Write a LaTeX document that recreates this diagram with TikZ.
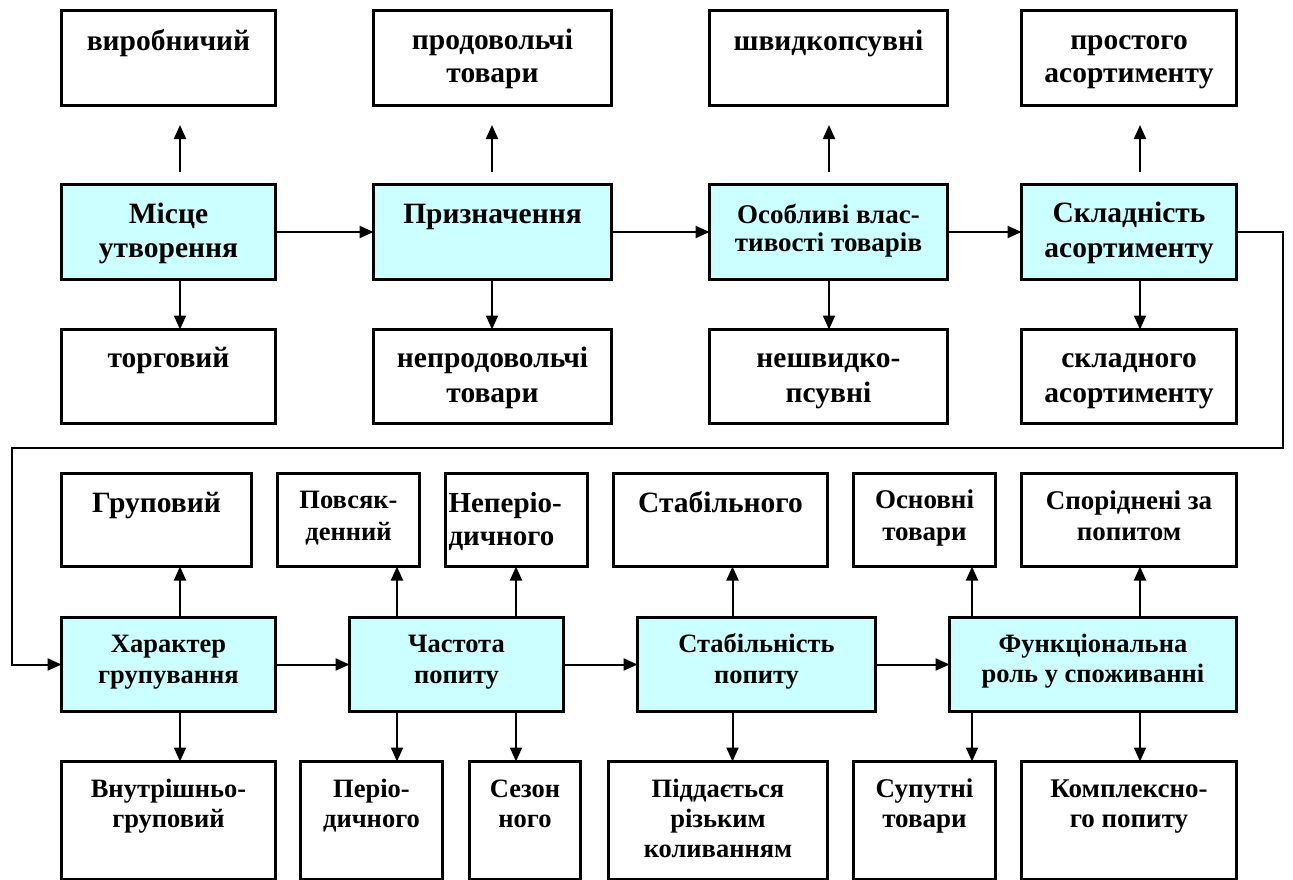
\documentclass[tikz,border=0pt]{standalone}
\usepackage{fontspec}
\setmainfont{Liberation Serif}
\usetikzlibrary{arrows.meta}
\definecolor{cyanbox}{RGB}{204,255,255}
\tikzset{
  plain/.style={draw=black, line width=3pt, fill=white},
  main/.style={draw=black, line width=3pt, fill=cyanbox},
  arr/.style={line width=2pt, -{Triangle[length=14pt,width=12pt]}},
  big/.style={font=\fontsize{29.5}{34}\selectfont\bfseries},
  med/.style={font=\fontsize{27}{32}\selectfont\bfseries},
  sml/.style={font=\fontsize{26.5}{30}\selectfont\bfseries},
  every node/.style={font=\fontsize{27}{34}\selectfont\bfseries}
}
\newcommand\mkbox[9]{%
  \pgfmathsetmacro\bw{#4-#2-3}%
  \pgfmathsetmacro\bh{#5-#3-3}%
  \pgfmathsetmacro\bo{#7-1.5}%
  \node[#6, minimum width=\bw pt, minimum height=\bh pt, inner sep=0pt, outer sep=0pt]
    (#1) at ({(#2+#4)/2},{(#3+#5)/2})
    {\parbox[c][\bh pt][t]{\bw pt}{\centering\baselineskip=#8pt\relax\lineskiplimit=-100pt\relax\rule{0pt}{\bo pt}#9}};}
\begin{document}
\begin{tikzpicture}[x=1pt,y=-1pt]
\useasboundingbox (0,0) rectangle (1293,879);
\clip (0,0) rectangle (1293,879);
% upper half
\mkbox{Vyr}{60}{9}{277}{107}{plain,big}{41}{33.5}{виробничий}
\mkbox{Prod}{372}{9}{613}{107}{plain,big}{40}{33.5}{продовольчі\\товари}
\mkbox{Shvyd}{708}{9}{949}{107}{plain,big}{41}{33.5}{швидкопсувні}
\mkbox{Prost}{1020}{9}{1238}{107}{plain,big}{40}{33.5}{простого\\асортименту}
\mkbox{Mist}{60}{183}{277}{281}{main,big}{40}{34}{Місце\\утворення}
\mkbox{Priz}{372}{183}{613}{281}{main,big}{40}{34}{Призначення}
\mkbox{Osob}{708}{183}{949}{281}{main,med}{40}{28}{Особливі влас-\\тивості товарів}
\mkbox{Skl}{1020}{183}{1238}{281}{main,big}{39}{35}{Складність\\асортименту}
\mkbox{Torg}{60}{328}{277}{425}{plain,big}{39}{35}{торговий}
\mkbox{Neprod}{372}{328}{613}{425}{plain,big}{39}{35}{непродовольчі\\товари}
\mkbox{Neshv}{708}{328}{949}{425}{plain,big}{39}{35}{нешвидко-\\псувні}
\mkbox{Sklad}{1020}{328}{1238}{425}{plain,big}{39}{35}{складного\\асортименту}
% lower half
\mkbox{Grup}{60}{472}{253}{568}{plain,big}{40}{32}{Груповий}
\mkbox{Povs}{276}{472}{421}{568}{plain,sml}{36}{32}{Повсяк-\\денний}
\mkbox{Neper}{444}{472}{589}{568}{plain,big}{40}{33}{\raggedright\fontsize{29}{33}\selectfont\hspace*{3pt}Неперіо-\\\hspace*{3pt}дичного}
\mkbox{Stabn}{612}{472}{829}{568}{plain,big}{40}{32}{Стабільного}
\mkbox{Osn}{852}{472}{997}{568}{plain,med}{36}{32}{Основні\\товари}
\mkbox{Spor}{1020}{472}{1238}{568}{plain,med}{37}{31}{Споріднені за\\попитом}
\mkbox{Khar}{60}{616}{277}{713}{main,sml}{36}{31}{Характер\\групування}
\mkbox{Chast}{348}{616}{565}{713}{main,sml}{36}{31}{Частота\\попиту}
\mkbox{Stab}{636}{616}{877}{713}{main,sml}{36}{31}{Стабільність\\попиту}
\mkbox{Funk}{948}{616}{1238}{713}{main,sml}{36}{30}{Функціональна\\роль у споживанні}
\mkbox{Vnut}{60}{760}{277}{881}{plain,sml}{37}{30}{Внутрішньо-\\груповий}
\mkbox{Perio}{299}{760}{444}{881}{plain,sml}{37}{30}{Періо-\\дичного}
\mkbox{Sezon}{468}{760}{582}{881}{plain,sml}{37}{30}{Сезон\\ного}
\mkbox{Pidd}{607}{760}{829}{881}{plain,sml}{37}{30}{Піддається\\різьким\\коливанням}
\mkbox{Suput}{852}{760}{997}{881}{plain,med}{37}{30}{Супутні\\товари}
\mkbox{Kompl}{1020}{760}{1238}{881}{plain,med}{37}{30}{Комплексно-\\го попиту}
% arrow columns
\coordinate (xa) at (180,0);
\coordinate (xb) at (492,0);
\coordinate (xc) at (829,0);
\coordinate (xd) at (1140,0);
\coordinate (xf) at (397,0);
\coordinate (xg) at (516,0);
\coordinate (xh) at (732.5,0);
\coordinate (xi) at (972,0);
% upper arrows
\foreach \m/\t/\b/\c in {Mist/Vyr/Torg/xa, Priz/Prod/Neprod/xb, Osob/Shvyd/Neshv/xc, Skl/Prost/Sklad/xd}{
  \draw[arr, shorten <=12.5pt, shorten >=19.5pt] (\m.north -| \c) -- (\t.south -| \c);
  \draw[arr] (\m.south -| \c) -- (\b.north -| \c);
}
\draw[arr] (Mist.east) -- (Priz.west);
\draw[arr] (Priz.east) -- (Osob.west);
\draw[arr] (Osob.east) -- (Skl.west);
% return connector
\coordinate (cR) at (1283,448);
\coordinate (cL) at (12,448);
\draw[arr] (Skl.east) -| (cR) -- (cL) |- (Khar.west);
% lower arrows
\foreach \m/\t/\b/\c in {Khar/Grup/Vnut/xa, Chast/Povs/Perio/xf, Chast/Neper/Sezon/xg, Stab/Stabn/Pidd/xh, Funk/Osn/Suput/xi, Funk/Spor/Kompl/xd}{
  \draw[arr] (\m.north -| \c) -- (\t.south -| \c);
  \draw[arr] (\m.south -| \c) -- (\b.north -| \c);
}
\draw[arr] (Khar.east) -- (Chast.west);
\draw[arr] (Chast.east) -- (Stab.west);
\draw[arr] (Stab.east) -- (Funk.west);
\end{tikzpicture}
\end{document}
